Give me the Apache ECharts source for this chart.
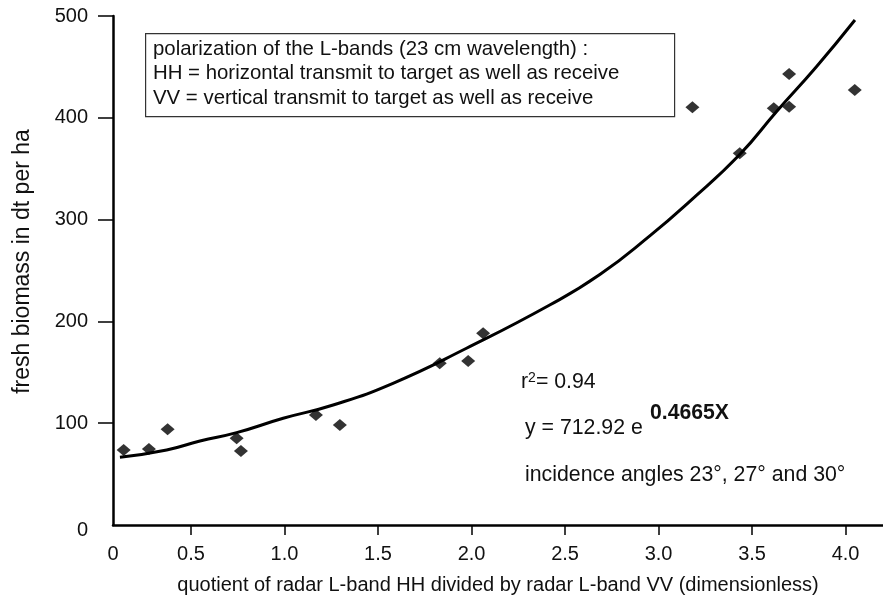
<!DOCTYPE html>
<html>
<head>
<meta charset="utf-8">
<script src="https://cdn.jsdelivr.net/npm/echarts@6/dist/echarts.min.js"></script>
<style>
html,body{margin:0;padding:0;background:#fff;}
#chart{width:883px;height:596px;}
</style>
</head>
<body>
<div id="chart"></div>
<script>
// ---- data ----
var pointX = [0.14, 0.275, 0.375, 0.744, 0.767, 1.168, 1.296, 1.83, 1.982, 2.062, 3.181, 3.434, 3.616, 3.698, 3.698, 4.049];
var pointY = [73.7, 74.7, 94.0, 85.2, 72.7, 108.0, 98.2, 158.8, 161.1, 188.3, 410.3, 365.1, 409.3, 443.0, 410.9, 427.3];
var curveX = [0.12, 0.37, 0.548, 0.744, 0.993, 1.26, 1.58, 1.973, 2.418, 2.686, 2.953, 3.167, 3.434, 3.63, 3.844, 4.05];
var curveY = [66.5, 73.7, 82.5, 90.7, 104.8, 117.9, 139.2, 173.6, 216.1, 246.0, 284.0, 318.0, 364.0, 406.0, 450.2, 496.1];
var xTickValues = [0.5, 1.0, 1.5, 2.0, 2.5, 3.0, 3.5, 4.0];
var xLabelValues = [0.083, 0.5, 1.0, 1.5, 2.0, 2.5, 3.0, 3.5, 4.0];
var xLabelTexts = ['0', '0.5', '1.0', '1.5', '2.0', '2.5', '3.0', '3.5', '4.0'];
var yTickValues = [100, 200, 300, 400, 500];
var yLabelValues = [0, 100, 200, 300, 400, 500];
var xTitle = 'quotient of radar L-band HH divided by radar L-band VV (dimensionless)';
var yTitle = 'fresh biomass in dt per ha';
var boxLines = [
  'polarization of the L-bands (23 cm wavelength) :',
  'HH = horizontal transmit to target as well as receive',
  'VV = vertical transmit to target as well as receive'
];

var FONT = '"Liberation Sans", Arial, Helvetica, sans-serif';
var chart = echarts.init(document.getElementById('chart'), null, {renderer: 'canvas'});

var scatterData = pointX.map(function (x, i) { return [x, pointY[i]]; });
var curveData = curveX.map(function (x, i) { return [x, curveY[i]]; });

var option = {
  backgroundColor: '#ffffff',
  animation: false,
  grid: {left: 113, right: 0, top: 16, bottom: 71, containLabel: false, outerBoundsMode: 'none'},
  xAxis: {
    type: 'value', min: 0.083, max: 4.2,
    axisLine: {show: true, onZero: false, lineStyle: {color: '#000', width: 2.5}},
    axisTick: {show: true, customValues: xTickValues, length: 10, lineStyle: {color: '#000', width: 1.5}},
    axisLabel: {
      customValues: xLabelValues, margin: 19, color: '#111', fontSize: 20, fontFamily: FONT,
      formatter: function (v) {
        for (var i = 0; i < xLabelValues.length; i++) { if (Math.abs(xLabelValues[i] - v) < 1e-6) return xLabelTexts[i]; }
        return '';
      }
    },
    splitLine: {show: false},
    name: xTitle, nameLocation: 'middle', nameGap: 50,
    nameTextStyle: {color: '#111', fontSize: 20, fontFamily: FONT}
  },
  yAxis: {
    type: 'value', min: 0, max: 500,
    axisLine: {show: true, lineStyle: {color: '#000', width: 2.5}},
    axisTick: {show: true, customValues: yTickValues, length: 15, lineStyle: {color: '#000', width: 1.5}},
    axisLabel: {
      customValues: yLabelValues, margin: 25, color: '#111', fontSize: 20, fontFamily: FONT,
      formatter: function (v) { return v === 0 ? '{z|0}' : String(v); },
      rich: {z: {fontSize: 20, fontFamily: FONT, color: '#111', padding: [10, 0, 0, 0]}}
    },
    splitLine: {show: false},
    name: yTitle, nameLocation: 'middle', nameGap: 79,
    nameTextStyle: {color: '#111', fontSize: 23, fontFamily: FONT, padding: [0, 0, 0, 18]}
  },
  series: [
    {
      type: 'line', data: curveData, smooth: true, showSymbol: false, symbol: 'none',
      lineStyle: {color: '#000', width: 3}, z: 2
    },
    {
      type: 'scatter', data: scatterData, symbol: 'diamond', symbolSize: [14, 12],
      itemStyle: {color: '#000'}, z: 3
    }
  ],
  graphic: [
    {type: 'rect', left: 145, top: 33, shape: {width: 529, height: 83},
     style: {fill: '#fff', stroke: '#333', lineWidth: 1.2}, z: 10},
    {type: 'text', left: 153, top: 37, z: 11,
     style: {text: boxLines.join('\n'), fill: '#111', fontSize: 20.4, fontFamily: FONT, lineHeight: 24.5}},
    {type: 'text', left: 521, top: 371, z: 11,
     style: {text: '{b|r}{s|2}{b|= 0.94}', fill: '#111', fontFamily: FONT,
       rich: {b: {fontSize: 21.3, fontFamily: FONT, fill: '#111', lineHeight: 23},
              s: {fontSize: 14, fontFamily: FONT, fill: '#111', verticalAlign: 'top', lineHeight: 23}}}},
    {type: 'text', left: 525, top: 418, z: 11,
     style: {text: 'y = 712.92 e', fill: '#111', fontSize: 21.3, fontFamily: FONT}},
    {type: 'text', left: 650, top: 403, z: 11,
     style: {text: '0.4665X', fill: '#111', fontSize: 21.2, fontWeight: 'bold', fontFamily: FONT}},
    {type: 'text', left: 525, top: 465, z: 11,
     style: {text: 'incidence angles 23°, 27° and 30°', fill: '#111', fontSize: 21.3, fontFamily: FONT}}
  ]
};
chart.setOption(option);
</script>
</body>
</html>
